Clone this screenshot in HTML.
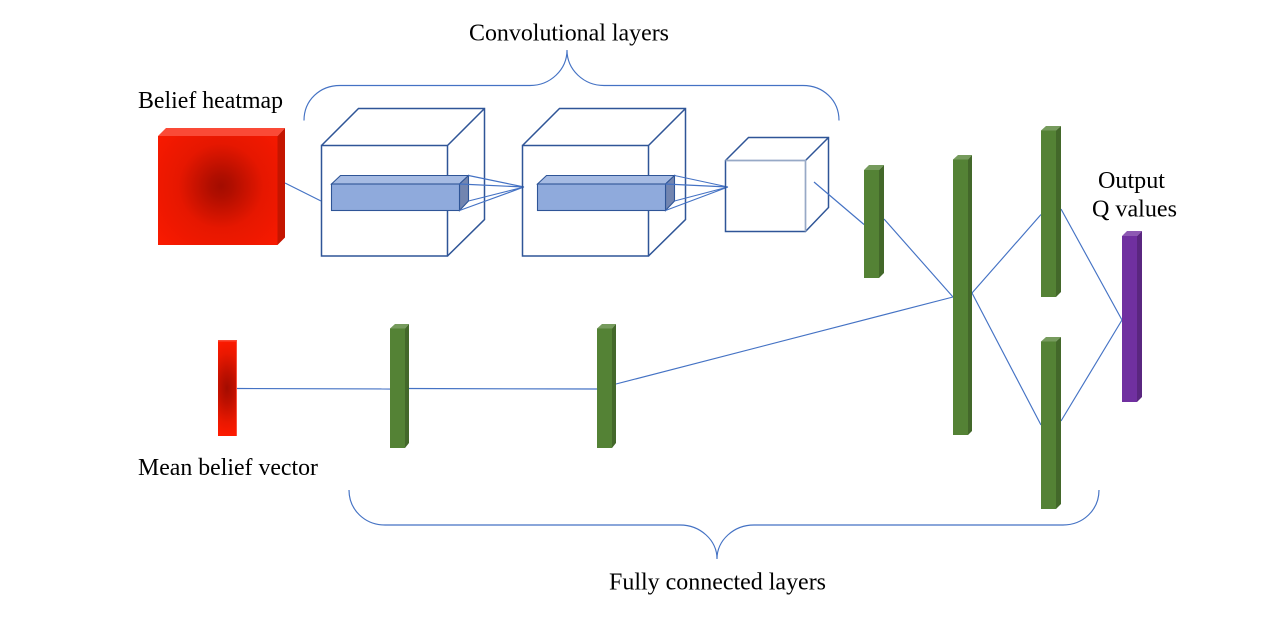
<!DOCTYPE html>
<html>
<head>
<meta charset="utf-8">
<style>
html,body{margin:0;padding:0;background:#fff;width:1280px;height:617px;overflow:hidden}
svg{display:block}
text{font-family:"Liberation Serif","Times New Roman",serif;font-size:24px;fill:#000}
.c{fill:none;stroke:#4472C4;stroke-width:1.15}
.k{fill:none;stroke:#2F5597;stroke-width:1.5}
.b{stroke:#2F5597;stroke-width:1.1}
</style>
</head>
<body>
<svg width="1280" height="617" viewBox="0 0 1280 617" xmlns="http://www.w3.org/2000/svg">
<defs>
<radialGradient id="hm" gradientUnits="userSpaceOnUse" cx="221" cy="186" r="85">
<stop offset="0" stop-color="#A30C00"/>
<stop offset="0.13" stop-color="#B00E00"/>
<stop offset="0.5" stop-color="#E61700"/>
<stop offset="1" stop-color="#FA1A00"/>
</radialGradient>
<radialGradient id="hs" gradientUnits="userSpaceOnUse" cx="0" cy="0" r="1" gradientTransform="translate(227 388) scale(24 50)">
<stop offset="0" stop-color="#A30C00"/>
<stop offset="0.3" stop-color="#BE1000"/>
<stop offset="0.7" stop-color="#EA1800"/>
<stop offset="1" stop-color="#FF1A00"/>
</radialGradient>
</defs>

<!-- labels -->
<text x="469" y="40.500" textLength="200" lengthAdjust="spacingAndGlyphs">Convolutional layers</text>
<text x="138" y="108" textLength="145" lengthAdjust="spacingAndGlyphs">Belief heatmap</text>
<text x="138" y="475" textLength="180" lengthAdjust="spacingAndGlyphs">Mean belief vector</text>
<text x="609" y="589.500" textLength="217" lengthAdjust="spacingAndGlyphs">Fully connected layers</text>
<text x="1098" y="188" textLength="67" lengthAdjust="spacingAndGlyphs">Output</text>
<text x="1092" y="216.500" textLength="85" lengthAdjust="spacingAndGlyphs">Q values</text>

<!-- braces -->
<path class="c" d="M304 120.500 C304 100 320 85.500 340 85.500 L530 85.500 C550 85.500 567 70 567 50 C567 70 584 85.500 604 85.500 L803 85.500 C823 85.500 839 100 839 120.500"/>
<path class="c" d="M349 490 C349 510 365 525 385 525 L680 525 C700 525 717 540 717 559 C717 540 734 525 754 525 L1063 525 C1083 525 1099 510 1099 490"/>

<!-- heatmap -->
<polygon points="158,136 166,128 285,128 277.500,136" fill="#FA4A36"/>
<polygon points="277.500,136 285,128 285,237.500 277.500,245" fill="#C41500"/>
<rect x="158" y="136" width="119.500" height="109" fill="url(#hm)"/>

<!-- cube 1 -->
<path class="k" d="M321.500 145.500 H447.500 V256 H321.500 Z M321.500 145.500 L358.500 108.500 H484.500 V219.500 L447.500 256 M447.500 145.500 L484.500 108.500"/>
<polygon class="b" points="331.500,184 340.500,175.500 468.500,175.500 459.500,184" fill="#A6BBE3"/>
<polygon class="b" points="459.500,184 468.500,175.500 468.500,201 459.500,210.500" fill="#7285B0"/>
<rect class="b" x="331.500" y="184" width="128" height="26.500" fill="#8FAADC"/>
<path class="c" d="M468.500 175.500 L524 187 M459.500 184 L524 187 M468.500 201 L524 187 M459.500 210.500 L524 187"/>

<!-- cube 2 -->
<path class="k" d="M522.500 145.500 H648.500 V256 H522.500 Z M522.500 145.500 L559.500 108.500 H685.500 V219.500 L648.500 256 M648.500 145.500 L685.500 108.500"/>
<polygon class="b" points="537.500,184 546.500,175.500 674.500,175.500 665.500,184" fill="#A6BBE3"/>
<polygon class="b" points="665.500,184 674.500,175.500 674.500,201 665.500,210.500" fill="#7285B0"/>
<rect class="b" x="537.500" y="184" width="128" height="26.500" fill="#8FAADC"/>
<path class="c" d="M674.500 175.500 L728 187 M665.500 184 L728 187 M674.500 201 L728 187 M665.500 210.500 L728 187"/>

<!-- cube 3 -->
<path class="k" d="M725.500 160.500 L748.500 137.500 H828.500 V207.500 L805.500 231.500 H725.500 Z M805.500 160.500 L828.500 137.500"/>
<path d="M725.500 160.500 H805.500 V231.500" fill="none" stroke="#97A9C6" stroke-width="1.700"/>

<!-- connectors -->
<path class="c" d="M285 183 L321 201"/>
<path class="c" d="M814 182 L864 224.500"/>
<path class="c" d="M884 219 L953 297"/>
<path class="c" d="M237 388.500 L390 389"/>
<path class="c" d="M405 388.500 L597 389"/>
<path class="c" d="M616 384 L953 297"/>
<path class="c" d="M972 293 L1041 214.500"/>
<path class="c" d="M972 293 L1041 425"/>
<path class="c" d="M1061 209 L1122 320"/>
<path class="c" d="M1061 421 L1122 320"/>

<!-- green bars -->
<g>
<polygon points="864,170 869,165 884,165 879,170" fill="#769B5D"/>
<polygon points="879,170 884,165 884,273 879,278" fill="#43682A"/>
<rect x="864" y="170" width="15" height="108" fill="#548235"/>

<polygon points="953,159.500 958,155 972,155 968,159.500" fill="#769B5D"/>
<polygon points="968,159.500 972,155 972,431 968,435" fill="#43682A"/>
<rect x="953" y="159.500" width="15" height="275.500" fill="#548235"/>

<polygon points="1041,130.500 1046,126 1061,126 1056,130.500" fill="#769B5D"/>
<polygon points="1056,130.500 1061,126 1061,292 1056,297" fill="#43682A"/>
<rect x="1041" y="130.500" width="15" height="166.500" fill="#548235"/>

<polygon points="1041,341.500 1046,337 1061,337 1056,341.500" fill="#769B5D"/>
<polygon points="1056,341.500 1061,337 1061,504 1056,509" fill="#43682A"/>
<rect x="1041" y="341.500" width="15" height="167.500" fill="#548235"/>

<polygon points="390,328.500 395,324 409,324 405,328.500" fill="#769B5D"/>
<polygon points="405,328.500 409,324 409,443 405,448" fill="#43682A"/>
<rect x="390" y="328.500" width="15" height="119.500" fill="#548235"/>

<polygon points="597,328.500 602,324 616,324 612,328.500" fill="#769B5D"/>
<polygon points="612,328.500 616,324 616,443 612,448" fill="#43682A"/>
<rect x="597" y="328.500" width="15" height="119.500" fill="#548235"/>
</g>

<!-- purple -->
<polygon points="1122,236 1127,231 1142,231 1137,236" fill="#8D59B3"/>
<polygon points="1137,236 1142,231 1142,397 1137,402" fill="#5A2680"/>
<rect x="1122" y="236" width="15" height="166" fill="#7030A0"/>

<!-- small red -->
<rect x="218" y="340" width="19" height="96" fill="url(#hs)"/>
<rect x="218" y="340" width="19" height="1.500" fill="#FA4A36"/>
<rect x="236" y="340" width="1" height="96" fill="#F8503C"/>
</svg>
</body>
</html>
